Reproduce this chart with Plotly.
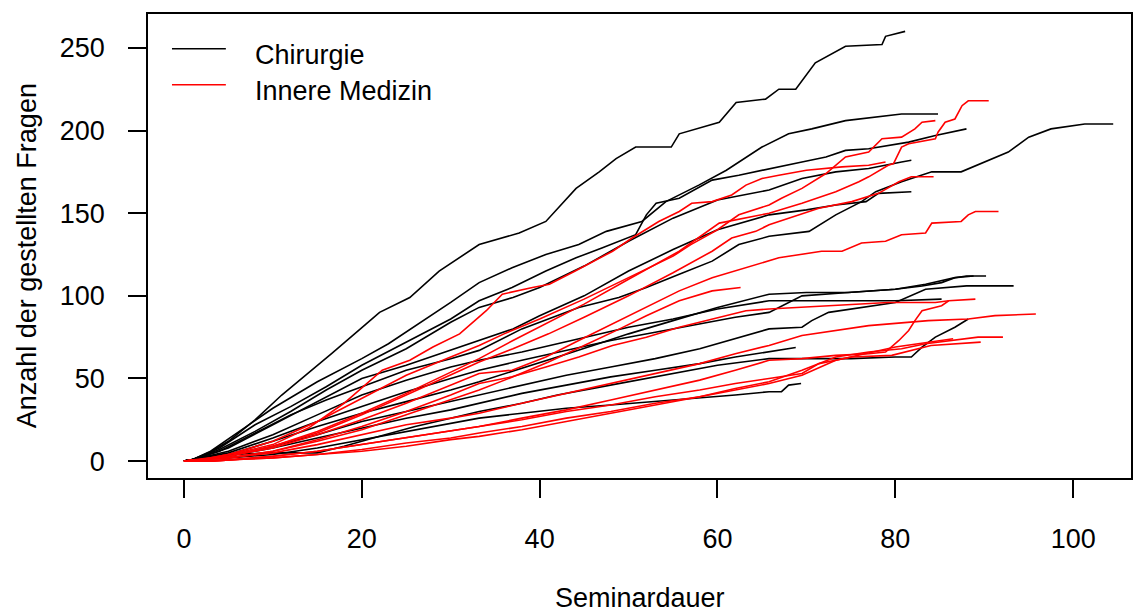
import plotly.graph_objects as go

# Cumulative number of questions asked over the course of each seminar.
# Each seminar is one series: elapsed time (minutes) and running count.

# --- Chirurgie -------------------------------------------------------------
chir_01_t = [0, 1, 2.5, 5, 8, 11, 13.9, 16.6, 20.5, 22, 25.4, 28.7, 33.2, 37.7, 40.7, 44.1, 46.7, 48.6, 50.8,
             54.8, 55.7, 60.2, 62.1, 65.4, 66.9, 68.8, 71, 74.4, 78.5, 78.9, 81.1]
chir_01_n = [0, 1, 4, 12, 25, 40, 53, 65, 83, 90, 99, 115, 131, 138, 145, 165, 175, 183, 190,
             190, 198, 205, 217, 219, 225, 225, 241, 251, 252, 257, 260]

chir_02_t = [0, 1, 3, 6, 10, 15, 20, 23, 27, 30, 33.2, 36.9, 40.7, 44.4, 47.5, 51.5, 54.2, 57.9, 61, 63.2,
             65, 68, 70.6, 74.4, 77.8, 80.7, 84.8]
chir_02_n = [0, 1, 6, 17, 32, 48, 62, 71, 85, 96, 108, 117, 125, 131, 139, 145, 157, 167, 176, 184,
             190, 198, 201, 206, 208, 210, 210]

chir_03_t = [0, 1, 4, 8, 12, 16, 20, 25, 30, 33.2, 36.9, 40.7, 44.1, 47, 50.8, 52, 53.1, 55.7, 57.1, 59.4,
             62.4, 65.8, 69.5, 72.2, 74.4, 77, 81.5, 84.5, 88]
chir_03_n = [0, 1, 8, 22, 33, 45, 58, 72, 86, 97, 105, 115, 123, 129, 137, 149, 156, 159, 163, 170,
             173, 177, 181, 184, 188, 189, 193, 197, 201]

chir_04_t = [0, 1, 4, 8, 12, 16, 20, 25, 30, 33.2, 38, 44.4, 48.9, 52, 55.7, 59.4, 62.4, 65.8, 70.3, 73.3,
             76.2, 77.8, 80.7, 84.1, 87.4, 90.1, 92.7, 95, 97.5, 101.3, 104.5]
chir_04_n = [0, 1, 6, 17, 28, 37, 45, 55, 62, 67, 80, 93, 99, 105, 113, 121, 131, 136, 139, 149,
             157, 163, 169, 175, 175, 181, 187, 196, 201, 204, 204]

chir_05_t = [0, 1, 4, 8, 12, 16, 20, 25, 30, 33.2, 37, 40, 45, 50, 55, 60, 65.8, 69.5, 73.3, 77, 80.7, 81.8]
chir_05_n = [0, 1, 7, 18, 30, 43, 55, 68, 84, 93, 99, 105, 118, 133, 147, 158, 164, 171, 175, 177, 181, 182]

chir_06_t = [0, 1, 5, 10, 15, 20, 25, 30, 33.2, 37, 40, 45, 50, 55, 60, 65.8, 70, 73.3, 76.7, 78.1, 81.8]
chir_06_n = [0, 1, 8, 22, 36, 50, 58, 67, 73, 80, 88, 100, 115, 128, 140, 149, 152, 155, 157, 162, 163]

chir_07_t = [0, 1, 5, 10, 15, 20, 25, 30, 33.2, 38, 42, 46, 50, 55, 60, 65.8, 70, 74.7, 80, 83, 85.2, 86.7, 88, 90.2]
chir_07_n = [0, 1, 4, 12, 21, 29, 36, 43, 48, 56, 63, 70, 77, 85, 93, 101, 102, 102, 104, 106, 108, 111, 112, 112]

chir_08_t = [0, 1, 5, 10, 15, 20, 25, 30, 33.2, 38, 43, 48, 53, 58, 62, 65.8, 69.5, 70.6, 72.5, 76.2, 80,
             83.4, 86, 88, 93.3]
chir_08_n = [0, 1, 3, 9, 16, 24, 30, 36, 40, 46, 52, 57, 62, 68, 74, 80, 81, 85, 90, 93, 96,
             104, 105, 106, 106]

chir_09_t = [0, 1, 5, 10, 15, 20, 25, 30, 33.2, 38, 42, 46, 50, 55, 60, 65.8, 70, 75, 80, 85.2]
chir_09_n = [0, 1, 6, 16, 28, 40, 49, 57, 61, 66, 71, 76, 81, 86, 92, 97, 97, 97, 97, 98]

chir_10_t = [0, 1, 5, 10, 15, 18, 22, 26, 30, 33.2, 38, 42, 46, 50, 55, 60, 65.8, 70, 75, 80, 81.8,
             83, 84.5, 86.7, 88.2]
chir_10_n = [0, 1, 4, 5, 5, 9, 15, 21, 26, 30, 35, 40, 44, 48, 53, 58, 62, 62, 62, 63, 63,
             69, 75, 81, 86]

chir_11_t = [0, 1, 5, 10, 15, 20, 25, 30, 33.2, 38, 43, 48, 53, 58, 62, 65.8, 68.8]
chir_11_n = [0, 1, 3, 8, 14, 20, 26, 31, 35, 41, 46, 51, 55, 59, 63, 66, 68.7]

chir_12_t = [0, 1, 5, 10, 15, 20, 25, 30, 33.2, 38, 43, 48, 53, 58, 62, 65.8, 67.2, 68, 69.4]
chir_12_n = [0, 1, 2, 4, 8, 13, 18, 23, 26, 29, 32, 34, 36, 38, 40, 42, 42, 46, 47]

chir_13_t = [0, 1, 5, 10, 15, 20, 25, 30, 33.2, 38, 43, 48, 53, 58, 62, 65.8, 69.5, 74.7, 80, 83.4, 86.7, 88.8]
chir_13_n = [0, 1, 5, 14, 24, 33, 42, 50, 55, 61, 67, 73, 78, 83, 87, 90, 100, 102, 104, 107, 111, 112]

# --- Innere Medizin --------------------------------------------------------
inn_01_t = [0, 2, 5, 10, 15, 20, 25, 30, 33.2, 37, 41, 45, 50, 55.7, 60.2, 63.2, 65.8, 69.5, 73.3, 75.9, 77,
            79.2, 79.8, 80.7, 81.5, 84.5, 84.8, 85.6, 86.7, 87.5, 88.2, 90.5]
inn_01_n = [0, 1, 3, 9, 18, 29, 41, 54, 62, 73, 84, 95, 110, 127, 144, 147, 150, 156, 163, 169, 172,
            179, 180, 190, 192, 195, 199, 205, 207, 215, 218, 218]

inn_02_t = [0, 2, 5, 10, 15, 20, 25, 30, 33.2, 36, 40, 45, 50, 55, 57, 60, 62.4, 65.8, 67.2, 69.5, 72.2,
            73.3, 74.4, 77, 78.5, 80.7, 82.2, 83, 84.5]
inn_02_n = [0, 1, 4, 12, 24, 38, 52, 63, 70, 77, 86, 98, 111, 124, 131, 140, 149, 155, 159, 165, 174,
            179, 184, 187, 195, 196, 201, 205, 206]

inn_03_t = [0, 3, 6, 10, 14, 18, 22.3, 25.4, 28, 31, 34, 35.8, 39.2, 41.1, 44, 48.2, 50.4, 53.4, 55.7, 57.1,
            59.4, 61.6, 63.2, 65, 66.9, 70, 74, 77, 78.9]
inn_03_n = [0, 2, 5, 10, 20, 35, 55, 61, 69, 77, 91, 101, 105, 107, 115, 127, 135, 145, 151, 156,
            157, 161, 167, 171, 173, 176, 178, 179, 181]

inn_04_t = [0, 2, 5, 10, 15, 20, 25, 30, 33.2, 37, 41, 45, 50, 55, 59.4, 61.6, 64.3, 65.8, 68, 71.4, 75.1,
            78.1, 80.4, 81.8, 84.3]
inn_04_n = [0, 1, 3, 9, 17, 28, 40, 52, 60, 68, 77, 87, 100, 114, 127, 135, 139, 143, 147, 153, 157,
            162, 169, 172, 172]

inn_05_t = [0, 2, 5, 10, 15, 20, 25, 30, 33.2, 36.9, 40.7, 44.4, 48.2, 52, 55.7, 59.4, 63.2, 66.9, 71.7, 74,
            76.2, 78.9, 80.7, 83.4, 84.1, 87.4, 88.2, 89, 91.6]
inn_05_n = [0, 1, 3, 8, 16, 25, 35, 46, 53, 55, 63, 73, 83, 93, 103, 111, 117, 123, 127, 127,
            132, 133, 137, 138, 144, 145, 149, 151, 151]

inn_06_t = [0, 2, 5, 10, 15, 20, 25, 30, 33.2, 37, 41, 45, 49, 52, 55.7, 59.4, 62.6]
inn_06_n = [0, 1, 2, 6, 12, 19, 28, 37, 43, 51, 60, 70, 80, 88, 97, 103, 105]

inn_07_t = [0, 2, 5, 10, 15, 20, 25, 30, 33.2, 36.9, 40.7, 44.4, 48.2, 52, 55.7, 59.4, 63.2, 65.8, 73.3,
            79.2, 84.5, 86]
inn_07_n = [0, 1, 2, 6, 13, 21, 30, 40, 47, 51, 57, 63, 70, 75, 81, 86, 91, 92, 94, 96, 96, 97]

inn_08_t = [0, 2, 5, 10, 15, 20, 25, 30, 33.2, 38, 43, 48, 53, 58, 62, 65.8, 69.5, 73.3, 77, 83.7, 88.2,
            91.2, 95.8]
inn_08_n = [0, 1, 2, 5, 10, 16, 22, 26, 29, 35, 41, 47, 53, 59, 65, 70, 76, 79, 82, 85, 86, 88, 89]

inn_09_t = [0, 2, 5, 10, 15, 20, 25, 30, 33.2, 38, 43, 48, 53, 58, 62, 65.8, 69.5, 73.3, 77, 78.9, 80.4,
            81.5, 82.2, 83, 85.2, 86, 89]
inn_09_n = [0, 0, 1, 3, 6, 10, 14, 18, 21, 26, 31, 37, 43, 49, 55, 61, 62, 64, 65, 66, 73,
            79, 85, 91, 94, 97, 98]

inn_10_t = [0, 3, 6, 10, 15, 20, 25, 30, 33.2, 38, 43, 48, 53, 58, 62, 65.8, 69.5, 73.3, 77, 80.7, 83.4,
            86.7, 89.3, 92.1]
inn_10_n = [0, 0, 1, 2, 4, 6, 9, 13, 15, 19, 24, 29, 34, 39, 44, 48, 55, 63, 66, 68, 71, 73, 75, 75]

inn_11_t = [0, 3, 6, 10, 15, 20, 25, 30, 33.2, 38, 43, 48, 53, 58, 62, 65.8, 69.5, 71.4, 75.1, 79.6, 84, 89.6]
inn_11_n = [0, 0, 1, 3, 6, 10, 14, 18, 21, 25, 30, 34, 39, 43, 47, 50, 53, 59, 63, 64, 70, 72]

inn_12_t = [0, 3, 6, 10, 15, 20, 25, 30, 33.2, 38, 43, 48, 53, 58, 62, 65.8, 69.5, 73.3, 80, 84, 86.5]
inn_12_n = [0, 0, 1, 2, 4, 7, 11, 14, 17, 21, 26, 30, 35, 39, 43, 47, 52, 61, 69, 72, 74]

chirurgie = [
    (chir_01_t, chir_01_n), (chir_02_t, chir_02_n), (chir_03_t, chir_03_n), (chir_04_t, chir_04_n),
    (chir_05_t, chir_05_n), (chir_06_t, chir_06_n), (chir_07_t, chir_07_n), (chir_08_t, chir_08_n),
    (chir_09_t, chir_09_n), (chir_10_t, chir_10_n), (chir_11_t, chir_11_n), (chir_12_t, chir_12_n),
    (chir_13_t, chir_13_n),
]
innere = [
    (inn_01_t, inn_01_n), (inn_02_t, inn_02_n), (inn_03_t, inn_03_n), (inn_04_t, inn_04_n),
    (inn_05_t, inn_05_n), (inn_06_t, inn_06_n), (inn_07_t, inn_07_n), (inn_08_t, inn_08_n),
    (inn_09_t, inn_09_n), (inn_10_t, inn_10_n), (inn_11_t, inn_11_n), (inn_12_t, inn_12_n),
]

groups = [("Chirurgie", "#000000", chirurgie), ("Innere Medizin", "#FF0000", innere)]

x_ticks = [0, 20, 40, 60, 80, 100]
y_ticks = [0, 50, 100, 150, 200, 250]

FONT = "Liberation Sans, Arial, sans-serif"
LINE_W = 1.6

fig = go.Figure()
for name, color, series in groups:
    for t, n in series:
        fig.add_trace(go.Scatter(
            x=t, y=n, mode="lines", name=name, showlegend=False,
            line=dict(color=color, width=LINE_W), hoverinfo="skip",
        ))

axis_common = dict(
    showgrid=False, zeroline=False, showline=True, linecolor="black", linewidth=1.5,
    mirror=True, ticks="outside", ticklen=18, tickwidth=1.5, tickcolor="black",
    tickfont=dict(family=FONT, size=27, color="black"),
)
fig.update_xaxes(range=[-4.04, 106.5], tickvals=x_ticks, ticklabelstandoff=18, **axis_common)
fig.update_yaxes(range=[-10.2, 270.5], tickvals=y_ticks, ticklabelstandoff=18, **axis_common)

# Legend drawn inside the top-left corner of the plot box
legend_rows = [("Chirurgie", "#000000", 0.925, 0.912), ("Innere Medizin", "#FF0000", 0.8476, 0.835)]
shapes, annotations = [], []
for label, color, y_line, y_text in legend_rows:
    shapes.append(dict(type="line", xref="paper", yref="paper", x0=0.0244, x1=0.0792, y0=y_line, y1=y_line,
                       line=dict(color=color, width=LINE_W)))
    annotations.append(dict(text=label, xref="paper", yref="paper", x=0.107, y=y_text, xanchor="left",
                            yanchor="middle", showarrow=False, font=dict(family=FONT, size=27, color="black")))

annotations.append(dict(text="Seminardauer", xref="paper", yref="paper", x=0.5, y=-0.258, xanchor="center",
                        yanchor="middle", showarrow=False, font=dict(family=FONT, size=27, color="black")))
annotations.append(dict(text="Anzahl der gestellten Fragen", xref="paper", yref="paper", x=-0.123, y=0.478,
                        xanchor="center", yanchor="middle", textangle=-90, showarrow=False,
                        font=dict(family=FONT, size=27, color="black")))

fig.update_layout(
    width=1145, height=612,
    margin=dict(l=148, r=12, t=12, b=134),
    paper_bgcolor="white", plot_bgcolor="white",
    shapes=shapes, annotations=annotations,
    showlegend=False,
)

fig.write_html("out.html")
